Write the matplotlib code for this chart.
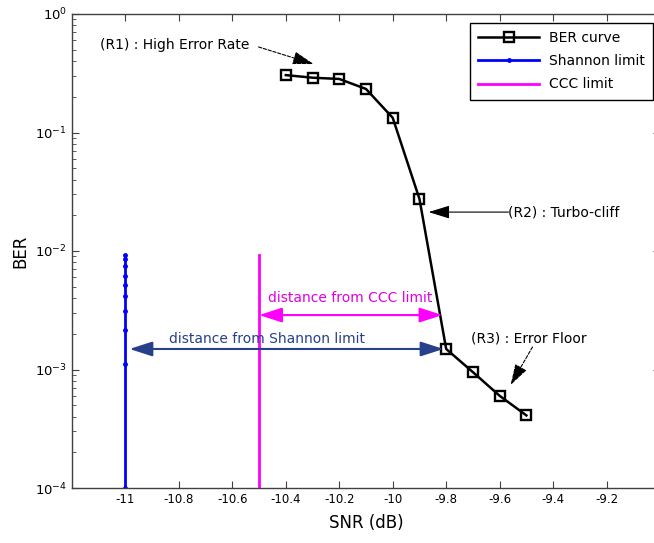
import matplotlib
matplotlib.use("Agg")
import matplotlib.pyplot as plt

# ---- data ----
snr_db = [-10.4, -10.3, -10.2, -10.1, -10.0, -9.9, -9.8, -9.7, -9.6, -9.5]
ber = [0.305, 0.29, 0.283, 0.233, 0.133, 0.0275, 0.00149, 0.00095, 0.0006, 0.00041]

shannon_x = -11.0
shannon_ber = [0.0093, 0.0086, 0.0074, 0.0062, 0.0052, 0.0042, 0.0031, 0.00215, 0.00111, 0.0001]

ccc_x = -10.5
ccc_ber = [0.0001, 0.0093]

xticks = [-11, -10.8, -10.6, -10.4, -10.2, -10, -9.8, -9.6, -9.4, -9.2, -9]
xtick_labels = ["-11", "-10.8", "-10.6", "-10.4", "-10.2", "-10", "-9.8", "-9.6", "-9.4", "-9.2", "-9"]

# ---- figure ----
fig = plt.figure(figsize=(6.54, 5.43), dpi=100)
ax = fig.add_axes([72 / 654, 55 / 543, 588 / 654, 474 / 543])

ax.plot(snr_db, ber, color="black", lw=1.8, marker="s", ms=7.5, mfc="none",
        mec="black", mew=1.7, label="BER curve")
ax.plot([shannon_x] * len(shannon_ber), shannon_ber, color="#0000ff", lw=2.0,
        marker=".", ms=5, label="Shannon limit")
ax.plot([ccc_x] * len(ccc_ber), ccc_ber, color="#ff00ff", lw=2.0, label="CCC limit")

ax.set_yscale("log")
ax.set_xlim(-11.2, -9.0)
ax.set_ylim(1e-4, 1)
ax.set_xticks(xticks)
ax.set_xticklabels(xtick_labels)

for s in ax.spines.values():
    s.set_color("#404040")
    s.set_linewidth(1.0)
ax.tick_params(which="both", direction="in", top=True, right=True, colors="#404040",
               labelcolor="black", labelsize=8.5)
ax.tick_params(which="major", length=5)
ax.tick_params(which="minor", length=3)
ax.tick_params(axis="y", labelsize=9.5)

ax.set_xlabel("SNR (dB)", fontsize=12, labelpad=6)
ax.set_ylabel("BER", fontsize=12, labelpad=4)

leg = ax.legend(loc="upper right", bbox_to_anchor=(653 / 654, 1 - 23 / 543),
                bbox_transform=fig.transFigure, fontsize=10, handlelength=4.4,
                labelspacing=0.65, fancybox=False, framealpha=1, borderpad=0.6,
                handletextpad=0.7, borderaxespad=0)
leg.get_frame().set_edgecolor("black")
leg.get_frame().set_linewidth(1.0)

# ---- annotations ----
dark_blue = "#26408b"
ax.annotate("", xy=(-9.814, 0.00288), xytext=(ccc_x, 0.00288),
            arrowprops=dict(arrowstyle="<|-|>,head_length=1.4,head_width=0.45",
                            color="#ff00ff", lw=1.5, shrinkA=0, shrinkB=0))
ax.text(-10.16, 0.00401, "distance from CCC limit", color="#e000e0", fontsize=10,
        ha="center", va="center")

ax.annotate("", xy=(-9.81, 0.00149), xytext=(-10.985, 0.00149),
            arrowprops=dict(arrowstyle="<|-|>,head_length=1.4,head_width=0.45",
                            color=dark_blue, lw=1.5, shrinkA=0, shrinkB=0))
ax.text(-10.47, 0.00181, "distance from Shannon limit", color=dark_blue, fontsize=10,
        ha="center", va="center")

ax.text(-11.094, 0.547, "(R1) : High Error Rate", fontsize=10, ha="left", va="center")
ax.annotate("", xy=(-10.296, 0.378), xytext=(-10.502, 0.527),
            arrowprops=dict(arrowstyle="-|>,head_length=1.3,head_width=0.4",
                            color="black", lw=0.8, ls=(0, (3, 1.5)), shrinkA=0, shrinkB=0))

ax.text(-9.567, 0.0213, "(R2) : Turbo-cliff", fontsize=10, ha="left", va="center")
ax.annotate("", xy=(-9.866, 0.0213), xytext=(-9.567, 0.0213),
            arrowprops=dict(arrowstyle="-|>,head_length=1.3,head_width=0.4",
                            color="black", lw=0.8, shrinkA=0, shrinkB=0))

ax.text(-9.709, 0.00181, "(R3) : Error Floor", fontsize=10, ha="left", va="center")
ax.annotate("", xy=(-9.559, 0.00074), xytext=(-9.477, 0.00155),
            arrowprops=dict(arrowstyle="-|>,head_length=1.3,head_width=0.4",
                            color="black", lw=0.8, ls=(0, (3, 1.5)), shrinkA=0, shrinkB=0))

fig.savefig("out.png", dpi=100)
